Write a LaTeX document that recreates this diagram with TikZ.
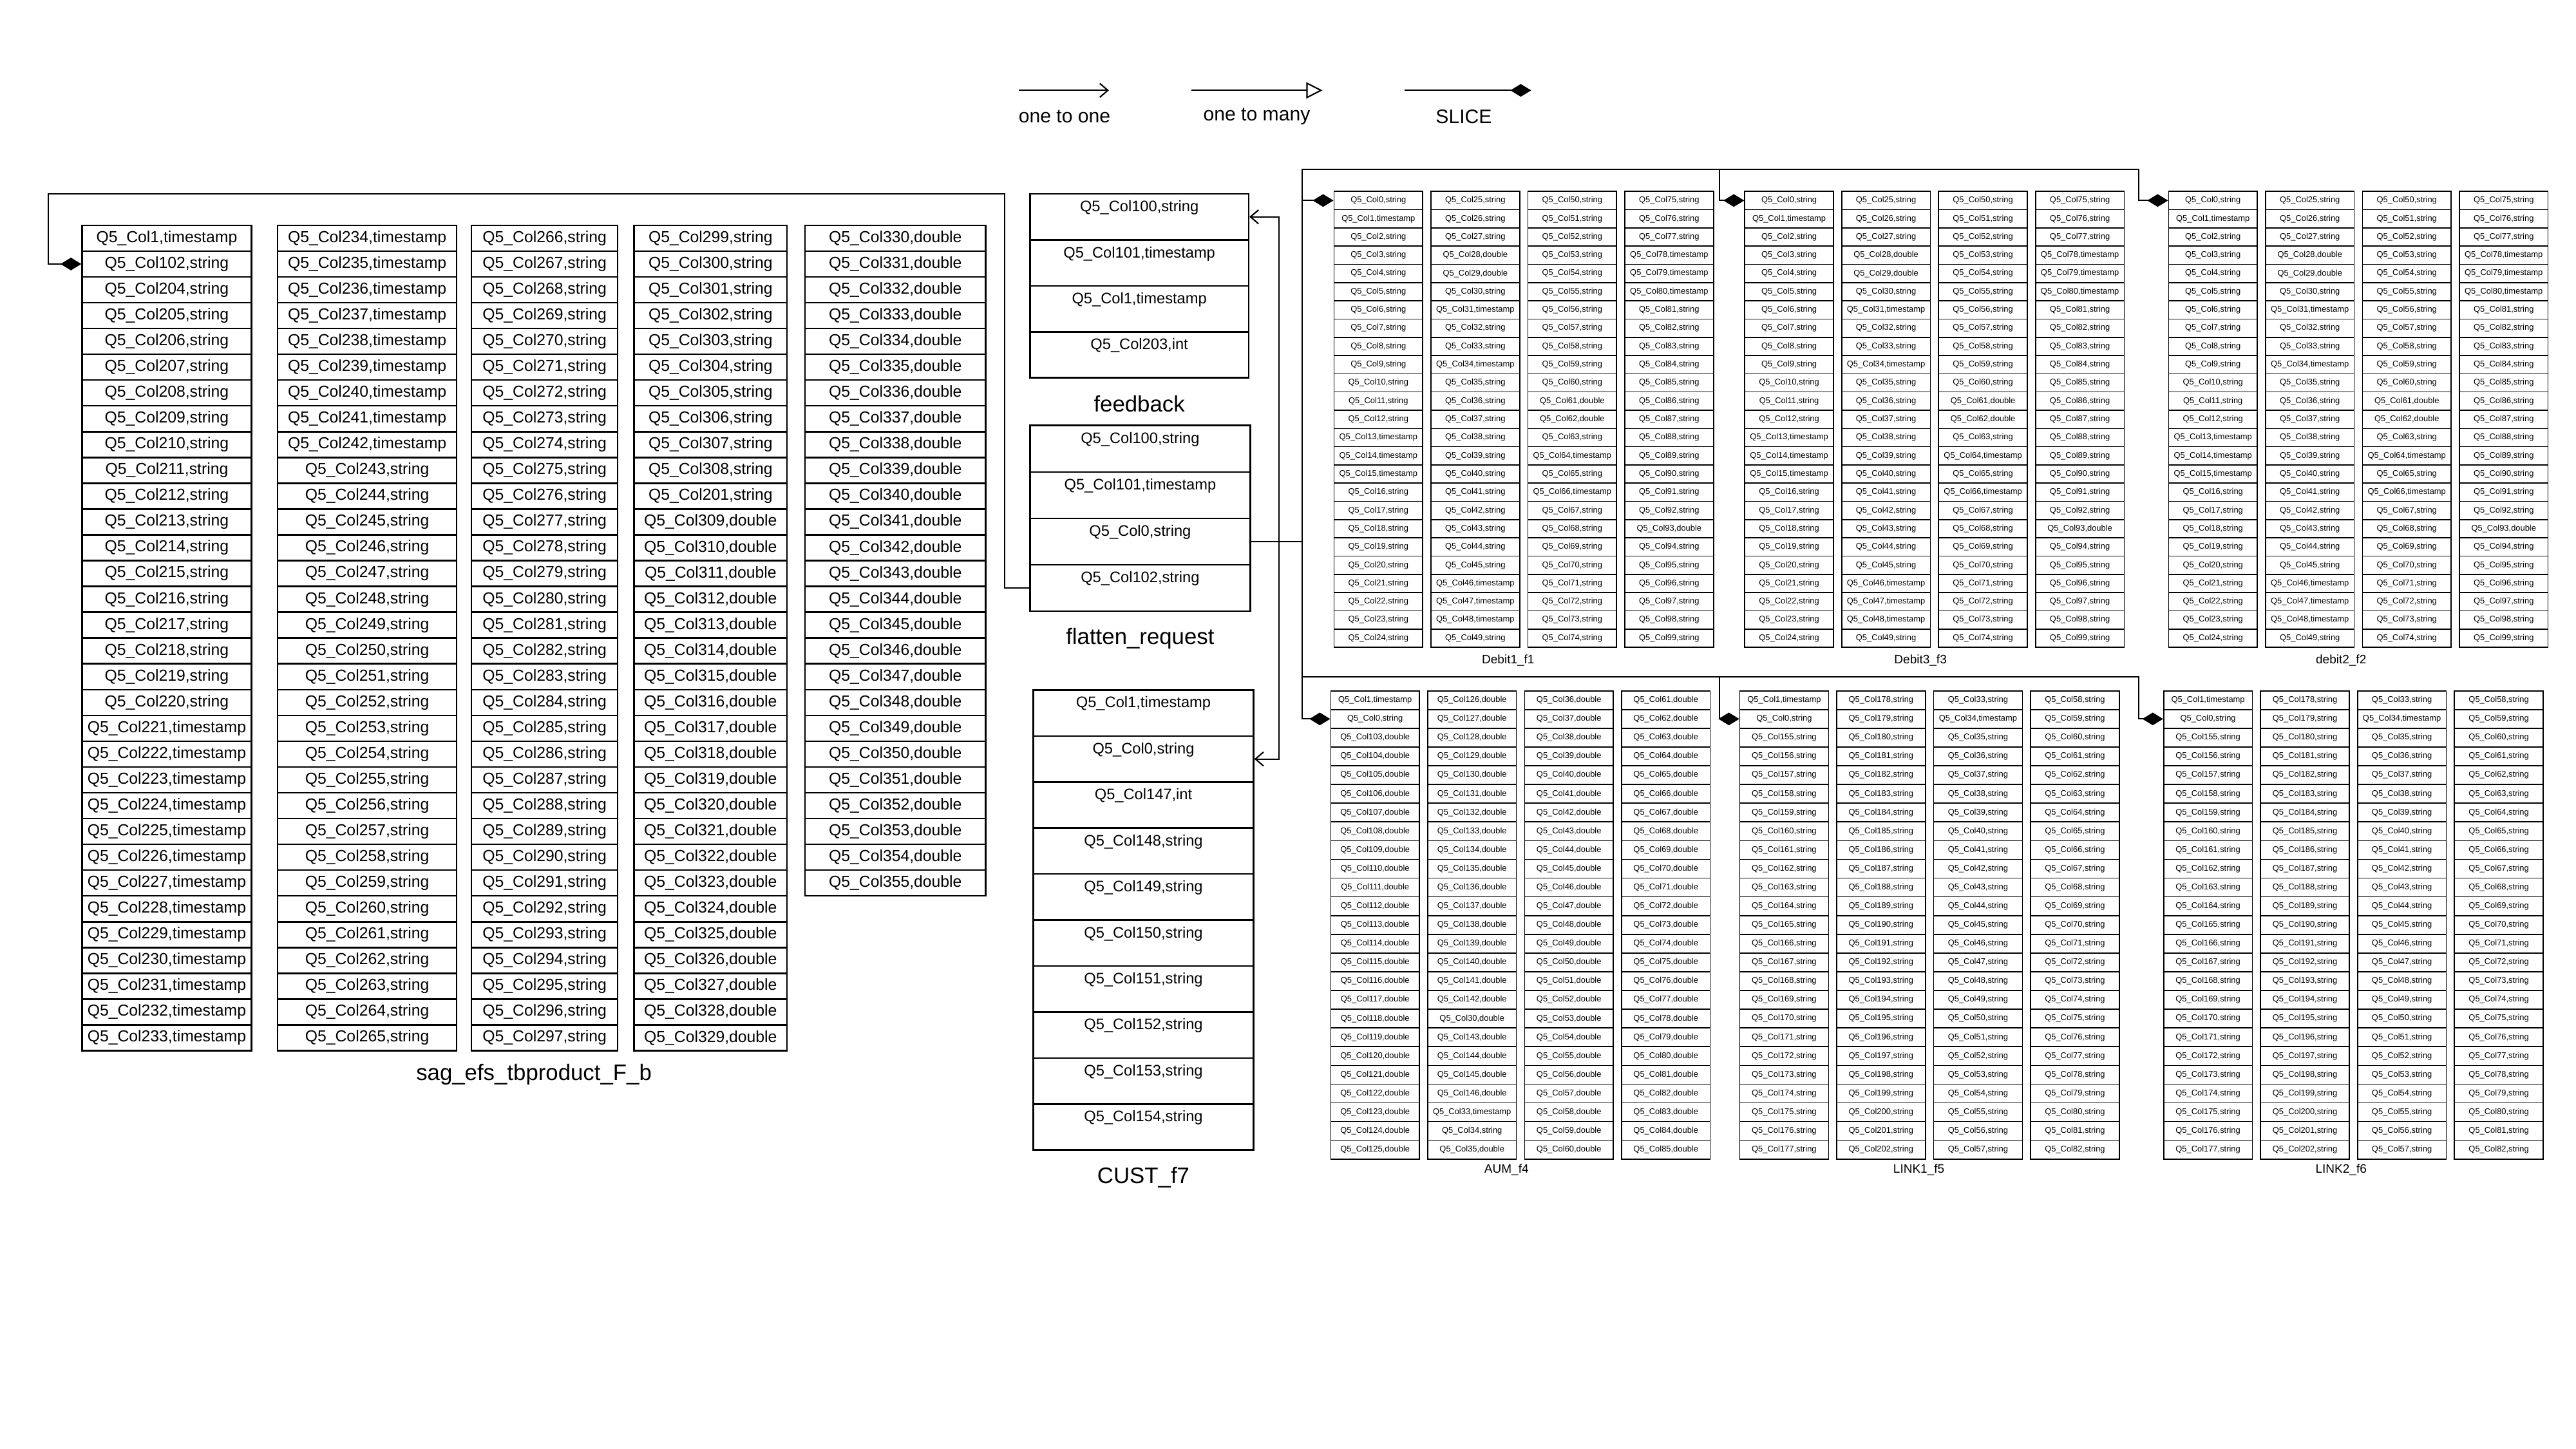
\documentclass[tikz,border=0pt]{standalone}
\usepackage{fontspec}
\setmainfont{Liberation Sans}
\usetikzlibrary{arrows.meta, positioning, calc}

% one unit = one pixel of the 1568 wide layout
\newcommand{\pxu}{0.025cm}

\tikzset{
  bigcell/.style={draw, rectangle, inner sep=0pt, line width=0.7pt, minimum height=15.7*\pxu, font=\fontsize{6.9}{8}\selectfont},
  midcell/.style={draw, rectangle, inner sep=0pt, line width=0.7pt, text height=0.27cm, text depth=0.43cm, font=\fontsize{6.6}{8}\selectfont},
  smallcell/.style={draw, rectangle, inner sep=0pt, line width=0.45pt, minimum width=54*\pxu, font=\fontsize{3.6}{4}\selectfont},
  tablabel/.style={inner sep=0pt, font=\fontsize{9.7}{11}\selectfont},
  smalllabel/.style={inner sep=0pt, font=\fontsize{5.3}{6}\selectfont},
  legendtext/.style={inner sep=0pt, font=\fontsize{8.4}{10}\selectfont},
  link/.style={line width=0.6pt},
  onetoone/.style={link, -{Straight Barb[length=3.5pt, width=6pt]}},
  onetomany/.style={link, -{Triangle[open, length=7pt, width=7pt, fill=white]}},
  slice/.style={link, -{Diamond[length=9pt, width=5.5pt]}},
}

% column of the big table: #1 column, #2 centre x, #3 width, #4 cells
\newcommand{\bigcol}[4]{%
  \foreach \cn/\ct [count=\i from 0] in {#4} {
    \node[bigcell, minimum width=#3*\pxu] (tb-#1-\i) at ({#2},{145+15.7*\i}) {Q5\_Col\cn,\ct};
  }
}

% middle tables: #1 name, #2 centre x, #3 top, #4 row height, #5 width, #6 cells
\newcommand{\midtab}[6]{%
  \foreach \cn/\ct [count=\i from 0] in {#6} {
    \node[midcell, minimum height=#4*\pxu, minimum width=#5*\pxu] (#1-\i) at ({#2},{#3+#4*(\i+0.5)}) {Q5\_Col\cn,\ct};
  }
}

% small tables, 4 columns of 25: #1 name, #2 left x, #3 top, #4 row height, #5 cells
\newcommand{\smalltab}[5]{%
  \foreach \cn/\ct [count=\i from 0] in #5 {
    \pgfmathtruncatemacro{\cl}{int(\i/25)}
    \pgfmathtruncatemacro{\rw}{mod(\i,25)}
    \node[smallcell, minimum height=#4*\pxu] (#1-\cl-\rw) at ({#2+27+59*\cl},{#3+#4*(\rw+0.5)}) {Q5\_Col\cn,\ct};
  }
}

\newcommand{\debitlist}{0/string,1/timestamp,2/string,3/string,4/string,5/string,6/string,7/string,8/string,9/string,10/string,11/string,12/string,13/timestamp,14/timestamp,15/timestamp,16/string,17/string,18/string,19/string,20/string,21/string,22/string,23/string,24/string,%
25/string,26/string,27/string,28/double,29/double,30/string,31/timestamp,32/string,33/string,34/timestamp,35/string,36/string,37/string,38/string,39/string,40/string,41/string,42/string,43/string,44/string,45/string,46/timestamp,47/timestamp,48/timestamp,49/string,%
50/string,51/string,52/string,53/string,54/string,55/string,56/string,57/string,58/string,59/string,60/string,61/double,62/double,63/string,64/timestamp,65/string,66/timestamp,67/string,68/string,69/string,70/string,71/string,72/string,73/string,74/string,%
75/string,76/string,77/string,78/timestamp,79/timestamp,80/timestamp,81/string,82/string,83/string,84/string,85/string,86/string,87/string,88/string,89/string,90/string,91/string,92/string,93/double,94/string,95/string,96/string,97/string,98/string,99/string}

\newcommand{\aumlist}{1/timestamp,0/string,103/double,104/double,105/double,106/double,107/double,108/double,109/double,110/double,111/double,112/double,113/double,114/double,115/double,116/double,117/double,118/double,119/double,120/double,121/double,122/double,123/double,124/double,125/double,%
126/double,127/double,128/double,129/double,130/double,131/double,132/double,133/double,134/double,135/double,136/double,137/double,138/double,139/double,140/double,141/double,142/double,30/double,143/double,144/double,145/double,146/double,33/timestamp,34/string,35/double,%
36/double,37/double,38/double,39/double,40/double,41/double,42/double,43/double,44/double,45/double,46/double,47/double,48/double,49/double,50/double,51/double,52/double,53/double,54/double,55/double,56/double,57/double,58/double,59/double,60/double,%
61/double,62/double,63/double,64/double,65/double,66/double,67/double,68/double,69/double,70/double,71/double,72/double,73/double,74/double,75/double,76/double,77/double,78/double,79/double,80/double,81/double,82/double,83/double,84/double,85/double}

\newcommand{\linklist}{1/timestamp,0/string,155/string,156/string,157/string,158/string,159/string,160/string,161/string,162/string,163/string,164/string,165/string,166/string,167/string,168/string,169/string,170/string,171/string,172/string,173/string,174/string,175/string,176/string,177/string,%
178/string,179/string,180/string,181/string,182/string,183/string,184/string,185/string,186/string,187/string,188/string,189/string,190/string,191/string,192/string,193/string,194/string,195/string,196/string,197/string,198/string,199/string,200/string,201/string,202/string,%
33/string,34/timestamp,35/string,36/string,37/string,38/string,39/string,40/string,41/string,42/string,43/string,44/string,45/string,46/string,47/string,48/string,49/string,50/string,51/string,52/string,53/string,54/string,55/string,56/string,57/string,%
58/string,59/string,60/string,61/string,62/string,63/string,64/string,65/string,66/string,67/string,68/string,69/string,70/string,71/string,72/string,73/string,74/string,75/string,76/string,77/string,78/string,79/string,80/string,81/string,82/string}

\begin{document}
\begin{tikzpicture}[x=\pxu, y=-\pxu]
        \useasboundingbox (0,0) rectangle (1568,882);

        % Legend
        \coordinate (oto-a) at (620,55);
        \coordinate (oto-b) at (675,55);
        \coordinate (otm-a) at (725,55);
        \coordinate (otm-b) at (805,55);
        \coordinate (slc-a) at (855,55);
        \coordinate (slc-b) at (932,55);
        \draw[onetoone] (oto-a) -- (oto-b);
        \draw[onetomany] (otm-a) -- (otm-b);
        \draw[slice] (slc-a) -- (slc-b);
        \node[legendtext] (oto-text) at (648,71) {one to one};
        \node[legendtext] (otm-text) at (765,71) {one to many};
        \node[legendtext] (slc-text) at (891,71) {SLICE};

        % sag_efs_tbproduct_F_b
        \bigcol{0}{101.5}{103}{1/timestamp,102/string,204/string,205/string,206/string,207/string,208/string,209/string,210/string,211/string,212/string,213/string,214/string,215/string,216/string,217/string,218/string,219/string,220/string,221/timestamp,222/timestamp,223/timestamp,224/timestamp,225/timestamp,226/timestamp,227/timestamp,228/timestamp,229/timestamp,230/timestamp,231/timestamp,232/timestamp,233/timestamp}
        \bigcol{1}{223.5}{109}{234/timestamp,235/timestamp,236/timestamp,237/timestamp,238/timestamp,239/timestamp,240/timestamp,241/timestamp,242/timestamp,243/string,244/string,245/string,246/string,247/string,248/string,249/string,250/string,251/string,252/string,253/string,254/string,255/string,256/string,257/string,258/string,259/string,260/string,261/string,262/string,263/string,264/string,265/string}
        \bigcol{2}{331.5}{89}{266/string,267/string,268/string,269/string,270/string,271/string,272/string,273/string,274/string,275/string,276/string,277/string,278/string,279/string,280/string,281/string,282/string,283/string,284/string,285/string,286/string,287/string,288/string,289/string,290/string,291/string,292/string,293/string,294/string,295/string,296/string,297/string}
        \bigcol{3}{432.5}{93}{299/string,300/string,301/string,302/string,303/string,304/string,305/string,306/string,307/string,308/string,201/string,309/double,310/double,311/double,312/double,313/double,314/double,315/double,316/double,317/double,318/double,319/double,320/double,321/double,322/double,323/double,324/double,325/double,326/double,327/double,328/double,329/double}
        \bigcol{4}{545}{110}{330/double,331/double,332/double,333/double,334/double,335/double,336/double,337/double,338/double,339/double,340/double,341/double,342/double,343/double,344/double,345/double,346/double,347/double,348/double,349/double,350/double,351/double,352/double,353/double,354/double,355/double}
        \node[tablabel] (tb-label) at (325,654) {sag\_efs\_tbproduct\_F\_b};

        % feedback, flatten_request, CUST_f7
        \midtab{fb}{693.5}{118}{28}{133}{100/string,101/timestamp,1/timestamp,203/int}
        \node[tablabel, below=0.25cm of fb-3] (fb-label) {feedback};
        \midtab{fr}{694}{259}{28.25}{134}{100/string,101/timestamp,0/string,102/string}
        \node[tablabel, below=0.24cm of fr-3] (fr-label) {flatten\_request};
        \midtab{cu}{696}{420}{28}{134}{1/timestamp,0/string,147/int,148/string,149/string,150/string,151/string,152/string,153/string,154/string}
        \node[tablabel, below=0.24cm of cu-9] (cu-label) {CUST\_f7};

        % Debit tables
        \smalltab{da}{812}{116.5}{11.1}{\debitlist}
        \node[smalllabel] (da-label) at (918,402) {Debit1\_f1};
        \smalltab{db}{1062}{116.5}{11.1}{\debitlist}
        \node[smalllabel] (db-label) at (1169,402) {Debit3\_f3};
        \smalltab{dc}{1320}{116.5}{11.1}{\debitlist}
        \node[smalllabel] (dc-label) at (1425,402) {debit2\_f2};

        % AUM and LINK tables
        \smalltab{aum}{810}{420.5}{11.4}{\aumlist}
        \node[smalllabel] (aum-label) at (917,712) {AUM\_f4};
        \smalltab{lka}{1059}{420.5}{11.4}{\linklist}
        \node[smalllabel] (lka-label) at (1168,712) {LINK1\_f5};
        \smalltab{lkb}{1317}{420.5}{11.4}{\linklist}
        \node[smalllabel] (lkb-label) at (1425,712) {LINK2\_f6};

        % Connectors
        \draw[slice] (fr-3.west) -- ++(-15,0) |- ($(tb-0-1.west)+(-20,-42.7)$) |- (tb-0-1.west);
        \draw[onetoone] (fr-2.east) -- ++(17,0) |- (fb-0.east);
        \draw[onetoone] (fr-2.east) -- ++(17,0) |- (cu-1.east);
        \draw[slice] (fr-2.east) -| ($(da-0-0.west)+(-19,0)$) -- (da-0-0.west);
        \draw[slice] (fr-2.east) -| ($(da-0-0.west)+(-19,-19)$) -| ($(db-0-0.west)+(-15,0)$) -- (db-0-0.west);
        \draw[slice] (fr-2.east) -| ($(da-0-0.west)+(-19,-19)$) -| ($(dc-0-0.west)+(-18,0)$) -- (dc-0-0.west);
        \draw[slice] (fr-2.east) -| ($(aum-0-1.west)+(-17,0)$) -- (aum-0-1.west);
        \draw[slice] (fr-2.east) -| ($(aum-0-1.west)+(-17,-25.6)$) -| ($(lka-0-1.west)+(-12,0)$) -- (lka-0-1.west);
        \draw[slice] (fr-2.east) -| ($(aum-0-1.west)+(-17,-25.6)$) -| ($(lkb-0-1.west)+(-15,0)$) -- (lkb-0-1.west);
\end{tikzpicture}
\end{document}
